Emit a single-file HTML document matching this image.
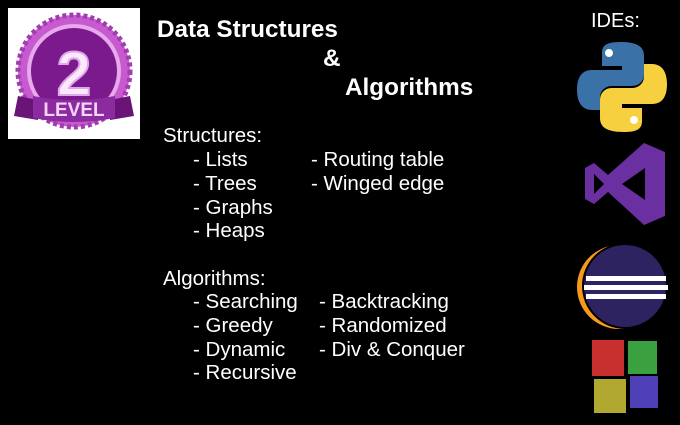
<!DOCTYPE html>
<html><head><style>
body{margin:0;width:680px;height:425px;background:#000;overflow:hidden;position:relative;font-family:"Liberation Sans",Arial,sans-serif;color:#fff}
.t{position:absolute;white-space:nowrap;line-height:1}
.h{font-weight:bold;font-size:24.3px}
.b{font-size:20.5px}
</style></head><body>
<div style="position:absolute;left:8px;top:8px;width:132px;height:131px;background:#fff"></div>
<svg style="position:absolute;left:8px;top:8px" width="132" height="131" viewBox="0 0 132 131">
<circle cx="66" cy="63" r="56" fill="#c85ad0" stroke="#a23cb0" stroke-width="5" stroke-dasharray="4 3"/>
<circle cx="66" cy="63" r="47" fill="#e8a8ec"/>
<circle cx="66" cy="63" r="43" fill="#7a1a8c"/>
<text x="66" y="87" font-family="Liberation Sans" font-weight="bold" font-size="62" fill="#fbe8fb" stroke="#e0a8e8" stroke-width="2" text-anchor="middle">2</text>
<path d="M10 88 L30 92 L30 112 L6 108 Z" fill="#6a1478"/>
<path d="M122 88 L102 92 L102 112 L126 108 Z" fill="#6a1478"/>
<path d="M25 88 Q66 96 107 88 L107 110 Q66 118 25 110 Z" fill="#8c2aa0"/>
<text x="66" y="108" font-family="Liberation Sans" font-weight="bold" font-size="19" fill="#f6d4f8" text-anchor="middle">LEVEL</text>
</svg>

<div class="t h" style="left:157px;top:18px">Data Structures</div>
<div class="t h" style="left:323px;top:47px">&amp;</div>
<div class="t h" style="left:345px;top:76px">Algorithms</div>

<div class="t b" style="left:163px;top:126px">Structures:</div>
<div class="t b" style="left:193px;top:150px">- Lists</div>
<div class="t b" style="left:193px;top:174px">- Trees</div>
<div class="t b" style="left:193px;top:198px">- Graphs</div>
<div class="t b" style="left:193px;top:221px">- Heaps</div>
<div class="t b" style="left:311px;top:150px">- Routing table</div>
<div class="t b" style="left:311px;top:174px">- Winged edge</div>

<div class="t b" style="left:163px;top:269px">Algorithms:</div>
<div class="t b" style="left:193px;top:292px">- Searching</div>
<div class="t b" style="left:193px;top:316px">- Greedy</div>
<div class="t b" style="left:193px;top:340px">- Dynamic</div>
<div class="t b" style="left:193px;top:363px">- Recursive</div>
<div class="t b" style="left:319px;top:292px">- Backtracking</div>
<div class="t b" style="left:319px;top:316px">- Randomized</div>
<div class="t b" style="left:319px;top:340px">- Div &amp; Conquer</div>

<div class="t" style="left:591px;top:11px;font-size:20px">IDEs:</div>

<svg style="position:absolute;left:0;top:0" width="680" height="425">
<path d="M620 42 C600 42 602 50 602 58 L602 66 L622 66 L622 70 L592 70 C580 70 577 80 577 90 C577 102 582 110 592 110 L600 110 L600 98 C600 90 606 86 612 86 L632 86 C640 86 644 80 644 74 L644 56 C644 46 636 42 620 42 Z" fill="#3a72a8"/>
<path d="M624 132 C644 132 642 124 642 116 L642 108 L622 108 L622 104 L652 104 C664 104 667 94 667 84 C667 72 662 64 652 64 L644 64 L644 76 C644 84 638 88 632 88 L612 88 C604 88 600 94 600 100 L600 118 C600 128 608 132 624 132 Z" fill="#f7d040"/>
<circle cx="609" cy="53" r="4" fill="#fff"/>
<circle cx="634" cy="120" r="4" fill="#fff"/>
<path d="M644 143 L665 152 L665 216 L644 225 L608 192 L594 204 L585 199 L585 168 L594 163 L608 175 Z M645 168 L622 184 L645 200 Z M594 174 L594 194 L604 184 Z" fill="#6a2fa0" fill-rule="evenodd"/>
<circle cx="619" cy="287" r="42" fill="#f79a1c"/>
<circle cx="625" cy="286" r="43" fill="#000"/>
<circle cx="625" cy="286" r="41" fill="#2c2360"/>
<rect x="586" y="276" width="80" height="5" fill="#fff"/>
<rect x="584" y="285" width="84" height="5" fill="#fff"/>
<rect x="586" y="294" width="80" height="5" fill="#fff"/>
<rect x="592" y="340" width="32" height="36" fill="#c83030"/>
<rect x="628" y="341" width="29" height="33" fill="#3aa040"/>
<rect x="594" y="379" width="32" height="34" fill="#b0a830"/>
<rect x="630" y="376" width="28" height="32" fill="#5040b8"/>
</svg>
</body></html>
